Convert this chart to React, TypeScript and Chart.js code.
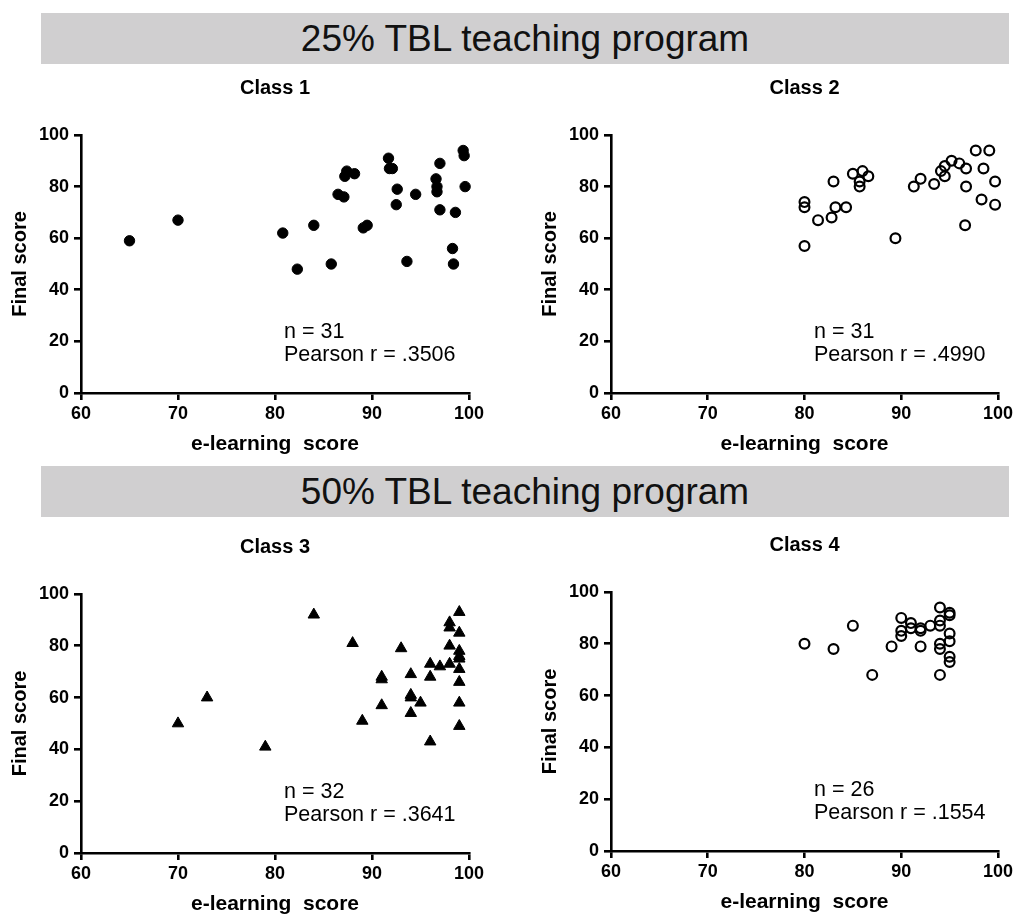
import React, { useEffect, useRef } from "react";
import { Chart, registerables } from "chart.js";

Chart.register(...registerables);

const FONT = "'Liberation Sans', Arial, sans-serif";

// Shared axis ticks
const xTicks = [60, 70, 80, 90, 100];
const yTicks = [0, 20, 40, 60, 80, 100];

// Section banners
const bannerTitles = ["25% TBL teaching program", "50% TBL teaching program"];

// Class 1 (filled circles)
const class1X = [65, 70, 80.8, 82.3, 84, 85.8, 86.5, 87.1, 87.2, 87.4, 88.2, 89.1, 89.5, 91.7, 91.8, 92.1, 92.6, 92.5, 93.6, 94.5, 96.6, 96.7, 96.7, 97, 97, 98.6, 98.3, 98.4, 99.4, 99.5, 99.6];
const class1Y = [59, 67, 62, 48, 65, 50, 77, 76, 84, 86, 85, 64, 65, 91, 87, 87, 79, 73, 51, 77, 83, 80, 78, 89, 71, 70, 56, 50, 94, 92, 80];

// Class 2 (open circles)
const class2X = [80, 80, 80, 81.4, 82.8, 83, 83.2, 84.3, 85, 85.7, 85.7, 86, 86.6, 89.4, 91.3, 92, 93.4, 94.1, 94.5, 94.5, 95.2, 96, 96.7, 96.7, 96.6, 97.7, 98.5, 98.3, 99.1, 99.7, 99.7];
const class2Y = [74, 72, 57, 67, 68, 82, 72, 72, 85, 82, 80, 86, 84, 60, 80, 83, 81, 86, 84, 88, 90, 89, 87, 80, 65, 94, 87, 75, 94, 82, 73];

// Class 3 (triangles)
const class3X = [70, 73, 79, 84, 88, 89, 91, 91, 91, 93, 94, 94, 94, 94, 95, 96, 96, 96, 97, 98, 98, 98, 98, 99, 99, 99, 99, 99, 99, 99, 99, 99];
const class3Y = [50, 60, 41, 92, 81, 51, 68, 67, 57, 79, 69, 61, 60, 54, 58, 73, 68, 43, 72, 89, 87, 80, 73, 93, 85, 78, 76, 75, 71, 66, 58, 49];

// Class 4 (open circles)
const class4X = [80, 83, 85, 87, 89, 90, 90, 90, 91, 91, 92, 92, 92, 93, 94, 94, 94, 94, 94, 94, 95, 95, 95, 95, 95, 95];
const class4Y = [80, 78, 87, 68, 79, 90, 85, 83, 88, 86, 86, 85, 79, 87, 94, 89, 87, 80, 78, 68, 92, 91, 84, 81, 75, 73];

const classTitles = ["Class 1", "Class 2", "Class 3", "Class 4"];
const nLabels = ["n = 31", "n = 31", "n = 32", "n = 26"];
const rLabels = ["Pearson r = .3506", "Pearson r = .4990", "Pearson r = .3641", "Pearson r = .1554"];

const textPlugin = {
  id: "panelText",
  afterDraw(chart: any, _args: any, opts: any) {
    const { ctx, chartArea } = chart;
    ctx.save();
    ctx.fillStyle = "#000";
    ctx.textBaseline = "middle";
    ctx.textAlign = "center";
    ctx.font = `bold 20px ${FONT}`;
    ctx.fillText(opts.title, (chartArea.left + chartArea.right) / 2, chartArea.top - 47);
    ctx.textAlign = "left";
    ctx.font = `21.5px ${FONT}`;
    ctx.fillText(opts.line1, chartArea.left + 203, chartArea.bottom - 61);
    ctx.fillText(opts.line2, chartArea.left + 203, chartArea.bottom - 38);
    ctx.restore();
  },
};

type PanelProps = {
  xs: number[];
  ys: number[];
  idx: number;
  style: string;
  radius: number;
  fill: string;
  bw: number;
  left: number;
  top: number;
  width: number;
  height: number;
  padTop: number;
  plotW: number;
};

function Panel(p: PanelProps) {
  const ref = useRef<HTMLCanvasElement>(null);
  useEffect(() => {
    const canvas = ref.current!;
    const data = p.xs.map((x, i) => ({ x, y: p.ys[i] }));
    const tickFont = { family: FONT, size: 18, weight: "bold" as const };
    const xTitleFont = { family: FONT, size: 21, weight: "bold" as const };
    const yTitleFont = { family: FONT, size: 20, weight: "bold" as const };
    const chart = new Chart(canvas, {
      type: "scatter",
      data: {
        datasets: [
          {
            data,
            pointStyle: p.style as any,
            pointRadius: p.radius,
            pointHoverRadius: p.radius,
            pointBackgroundColor: p.fill,
            pointBorderColor: "#000",
            pointBorderWidth: p.bw,
            clip: false as any,
          },
        ],
      },
      options: {
        responsive: false,
        animation: false,
        devicePixelRatio: 1,
        events: [],
        layout: { padding: { top: p.padTop, right: p.width - 81 - p.plotW, bottom: 0, left: 0 } },
        plugins: {
          legend: { display: false },
          tooltip: { enabled: false },
          panelText: { title: classTitles[p.idx], line1: nLabels[p.idx], line2: rLabels[p.idx] },
        } as any,
        scales: {
          x: {
            type: "linear",
            min: xTicks[0],
            max: xTicks[xTicks.length - 1],
            afterFit: (s: any) => {
              s.height = 64;
            },
            ticks: { stepSize: xTicks[1] - xTicks[0], font: tickFont, color: "#000", padding: 3, maxRotation: 0 },
            grid: { drawOnChartArea: false, drawTicks: true, tickLength: 7, color: "#000", lineWidth: 2.6 },
            border: { display: true, color: "#000", width: 2.6 },
            title: { display: true, text: "e-learning  score", font: xTitleFont, color: "#000", padding: { top: 0, bottom: 0 } },
          },
          y: {
            type: "linear",
            min: yTicks[0],
            max: yTicks[yTicks.length - 1],
            afterFit: (s: any) => {
              s.width = 81;
            },
            ticks: { stepSize: yTicks[1] - yTicks[0], font: tickFont, color: "#000", padding: 5 },
            grid: { drawOnChartArea: false, drawTicks: true, tickLength: 7, color: "#000", lineWidth: 2.6 },
            border: { display: true, color: "#000", width: 2.6 },
            title: { display: true, text: "Final score", font: yTitleFont, color: "#000", padding: { top: 8, bottom: 0 } },
          },
        },
      } as any,
      plugins: [textPlugin as any],
    });
    return () => chart.destroy();
  }, []);
  return (
    <canvas
      ref={ref}
      width={p.width}
      height={p.height}
      style={{ position: "absolute", left: p.left, top: p.top, width: p.width, height: p.height }}
    />
  );
}

function Banner({ text, top }: { text: string; top: number }) {
  return (
    <div
      style={{
        position: "absolute",
        left: 41,
        top,
        width: 968,
        height: 51,
        background: "#d0cfd0",
        color: "#111",
        fontFamily: FONT,
        fontSize: 37,
        lineHeight: "51px",
        textAlign: "center",
      }}
    >
      {text}
    </div>
  );
}

export default function App() {
  return (
    <div
      style={{
        position: "absolute",
        left: 0,
        top: 0,
        width: 1017,
        height: 915,
        overflow: "hidden",
        background: "#fff",
      }}
    >
      <Banner text={bannerTitles[0]} top={13} />
      <Banner text={bannerTitles[1]} top={466} />
      <Panel xs={class1X} ys={class1Y} idx={0} style="circle" radius={5.2} fill="#000" bw={1} left={0} top={64} width={505} height={393} padTop={71} plotW={388} />
      <Panel xs={class2X} ys={class2Y} idx={1} style="circle" radius={4.9} fill="rgba(0,0,0,0)" bw={2.2} left={530} top={64} width={487} height={393} padTop={71} plotW={387} />
      <Panel xs={class3X} ys={class3Y} idx={2} style="triangle" radius={6.6} fill="#000" bw={1} left={0} top={518} width={505} height={399} padTop={76} plotW={388} />
      <Panel xs={class4X} ys={class4Y} idx={3} style="circle" radius={4.9} fill="rgba(0,0,0,0)" bw={2.2} left={530} top={518} width={487} height={397} padTop={74} plotW={387} />
    </div>
  );
}
